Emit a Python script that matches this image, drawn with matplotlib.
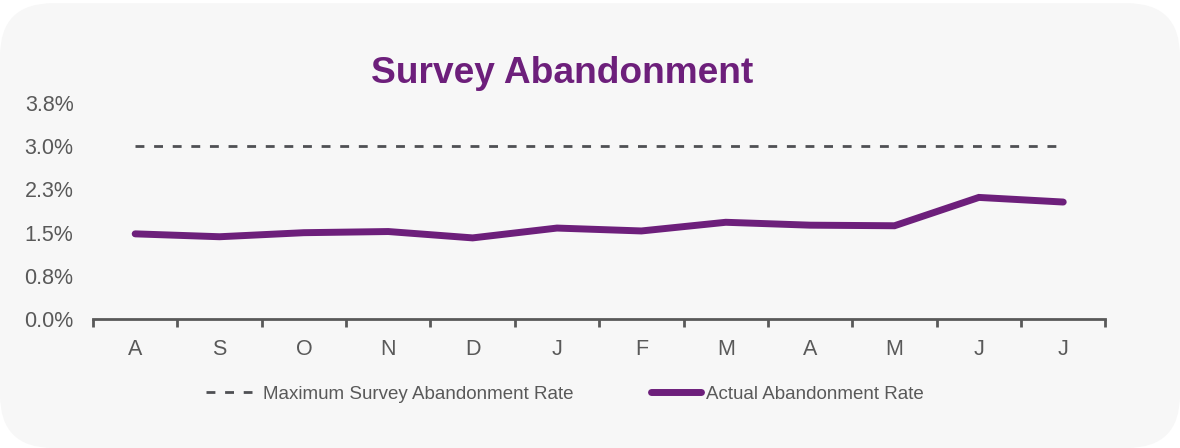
import matplotlib.pyplot as plt
from matplotlib.patches import FancyBboxPatch
from matplotlib.lines import Line2D

months = ['A', 'S', 'O', 'N', 'D', 'J', 'F', 'M', 'A', 'M', 'J', 'J']
actual = [1.48, 1.43, 1.50, 1.52, 1.41, 1.58, 1.53, 1.68, 1.63, 1.62, 2.11, 2.03]
max_rate = [3.0] * 12
ytick_vals = [0.0, 0.75, 1.5, 2.25, 3.0, 3.75]
ytick_lbls = ['0.0%', '0.8%', '1.5%', '2.3%', '3.0%', '3.8%']

purple = '#6d1f7b'
grey = '#595959'
dash_grey = '#4f5054'

plt.rcParams['font.family'] = ['Liberation Sans', 'DejaVu Sans']

fig = plt.figure(figsize=(11.8, 4.48), dpi=100, facecolor='white')
bg = FancyBboxPatch((0.0, 0.0), 1.0, 0.993, boxstyle='round,pad=0,rounding_size=0.045',
                    mutation_aspect=1180 / 448, transform=fig.transFigure,
                    facecolor='#f7f7f7', edgecolor='none', zorder=-5)
fig.patches.append(bg)

ax = fig.add_axes([0.0788, 0.287, 0.858, 0.484])
ax.set_facecolor('none')

x = list(range(len(months)))
ax.plot(x, max_rate, color=dash_grey, lw=2, dashes=(3.2, 3.5), solid_capstyle='butt')
ax.plot(x, actual, color=purple, lw=5, solid_capstyle='round', solid_joinstyle='miter')

ax.set_xlim(-0.5, len(months) - 0.5)
ax.set_ylim(0, 3.75)
ax.set_yticks(ytick_vals)
ax.set_yticklabels(ytick_lbls)
ax.set_xticks(x)
ax.set_xticklabels(months)
ax.set_xticks([i - 0.5 for i in range(len(months) + 1)], minor=True)

for s in ['top', 'right', 'left']:
    ax.spines[s].set_visible(False)
ax.spines['bottom'].set_color(grey)
ax.spines['bottom'].set_linewidth(2)

ax.tick_params(axis='y', length=0, labelsize=15.5, labelcolor=grey, pad=14)
ax.tick_params(axis='x', which='major', length=0, labelsize=15.5, labelcolor=grey, pad=14)
ax.tick_params(axis='x', which='minor', length=6, width=2, color=grey, direction='out')

fig.text(0.476, 0.836, 'Survey Abandonment', color=purple, fontsize=26.7,
         fontweight='bold', ha='center', va='center')

h1 = Line2D([], [], color=dash_grey, lw=2, dashes=(3.2, 3.5))
h2 = Line2D([], [], color=purple, lw=5, solid_capstyle='round')
leg1 = ax.legend([h1], ['Maximum Survey Abandonment Rate'], loc='center', bbox_to_anchor=(0.293, -0.345),
                 frameon=False, fontsize=13.5, handlelength=2.45, handletextpad=0.62, labelcolor=grey)
ax.add_artist(leg1)
ax.legend([h2], ['Actual Abandonment Rate'], loc='center', bbox_to_anchor=(0.686, -0.345),
          frameon=False, fontsize=13.5, handlelength=2.67, handletextpad=0.25, labelcolor=grey)

fig.savefig('out.png', dpi=100, facecolor='white')
